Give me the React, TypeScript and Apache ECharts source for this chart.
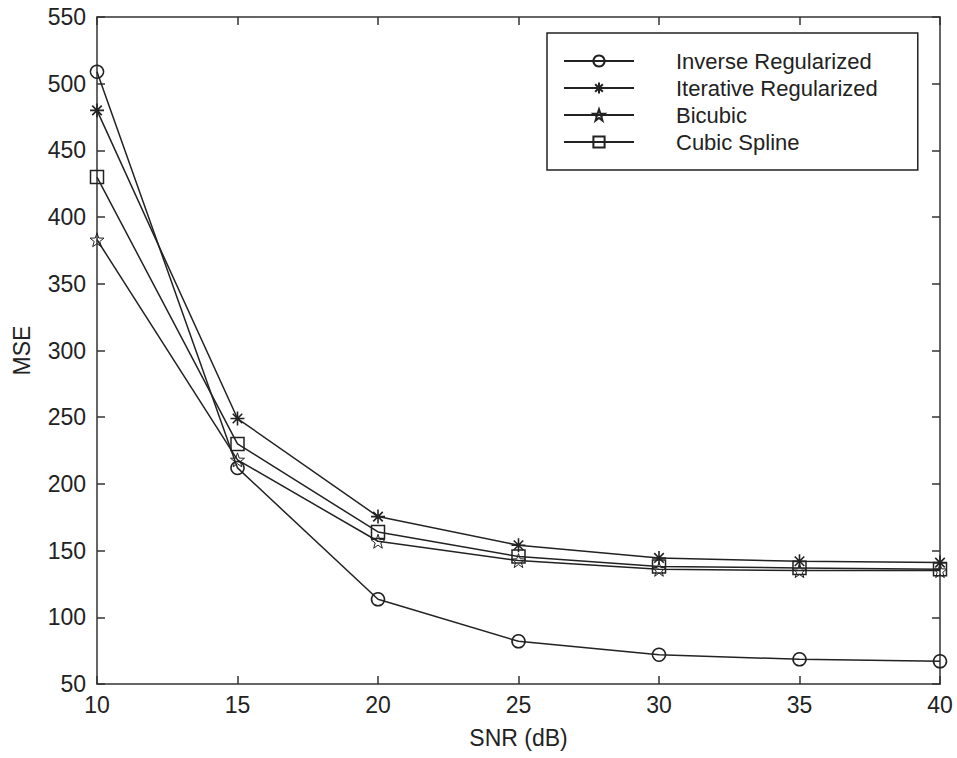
import React, { useEffect, useRef } from "react";
import * as echarts from "echarts";

const snr = [10, 15, 20, 25, 30, 35, 40];
const inverseRegularized = [509, 212, 113.5, 82, 72, 68.5, 67];
const iterativeRegularized = [480, 249, 175.5, 154, 144.5, 142, 141];
const bicubic = [383, 218, 157, 142.5, 136, 135, 135];
const cubicSpline = [430, 230, 164, 145.5, 138, 137, 136];
const seriesNames = ["Inverse Regularized", "Iterative Regularized", "Bicubic", "Cubic Spline"];

const FONT = "'Liberation Sans', Arial, Helvetica, sans-serif";
const INK = "#222";

const circleSym = "path://M10,0A10,10,0,1,1,9.99,0Z";
const asteriskSym =
  "path://M5,0L5,10M0,5L10,5M1.6,1.6L8.4,8.4M8.4,1.6L1.6,8.4";
const starSym =
  "path://M10,0L12.35,6.76L19.51,6.91L13.8,11.24L15.88,18.09L10,14L4.12,18.09L6.2,11.24L0.49,6.91L7.65,6.76Z";
const squareSym = "path://M0,0L10,0L10,10L0,10Z";

export default function App() {
  const ref = useRef<HTMLDivElement>(null);
  useEffect(() => {
    if (!ref.current) return;
    const chart = echarts.init(ref.current, null, { renderer: "svg" });
    const mk = (name: string, data: number[], symbol: string, size: number, bw: number) => ({
      name,
      type: "line",
      data: snr.map((x, i) => [x, data[i]]),
      symbol,
      symbolSize: size,
      showAllSymbol: true,
      clip: false,
      lineStyle: { color: INK, width: 1.5 },
      itemStyle: { color: "transparent", borderColor: INK, borderWidth: bw },
      emphasis: { disabled: true },
    });
    const axisLine = { show: true, lineStyle: { color: "#333", width: 1.5 } };
    const axisTick = { show: true, inside: true, length: 8, lineStyle: { color: "#333", width: 1.5 } };
    chart.setOption({
      animation: false,
      backgroundColor: "#fff",
      grid: { left: 97, top: 17, right: 17, bottom: 74 },
      legend: {
        orient: "vertical",
        left: 547,
        top: 33,
        padding: [17, 40, 17, 16],
        itemGap: 5,
        itemWidth: 70,
        itemHeight: 14,
        borderColor: INK,
        borderWidth: 1.5,
        backgroundColor: "#fff",
        selectedMode: false,
        data: seriesNames,
        textStyle: { fontSize: 22, color: INK, fontFamily: FONT, padding: [0, 0, 0, 37] },
      },
      xAxis: [
        {
          type: "value",
          min: 10,
          max: 40,
          interval: 5,
          name: "SNR (dB)",
          nameLocation: "middle",
          nameGap: 42,
          nameTextStyle: { fontSize: 23, color: INK, fontFamily: FONT },
          axisLine,
          axisTick,
          axisLabel: { fontSize: 23, color: INK, fontFamily: FONT, margin: 9 },
          splitLine: { show: false },
        },
        {
          type: "value",
          position: "top",
          min: 10,
          max: 40,
          interval: 5,
          axisLine,
          axisTick,
          axisLabel: { show: false },
          splitLine: { show: false },
        },
      ],
      yAxis: [
        {
          type: "value",
          min: 50,
          max: 550,
          interval: 50,
          name: "MSE",
          nameLocation: "middle",
          nameRotate: 90,
          nameGap: 64,
          nameTextStyle: { fontSize: 23, color: INK, fontFamily: FONT },
          axisLine,
          axisTick,
          axisLabel: { fontSize: 23, color: INK, fontFamily: FONT, margin: 11 },
          splitLine: { show: false },
        },
        {
          type: "value",
          position: "right",
          min: 50,
          max: 550,
          interval: 50,
          axisLine,
          axisTick,
          axisLabel: { show: false },
          splitLine: { show: false },
        },
      ],
      series: [
        mk(seriesNames[0], inverseRegularized, circleSym, 13, 1.5),
        mk(seriesNames[1], iterativeRegularized, asteriskSym, 14, 1.6),
        mk(seriesNames[2], bicubic, starSym, 14, 1.0),
        mk(seriesNames[3], cubicSpline, squareSym, 13, 1.5),
      ],
    });
    return () => chart.dispose();
  }, []);
  return (
    <div
      ref={ref}
      style={{ position: "absolute", left: 0, top: 0, width: 957, height: 758, background: "#fff" }}
    />
  );
}
